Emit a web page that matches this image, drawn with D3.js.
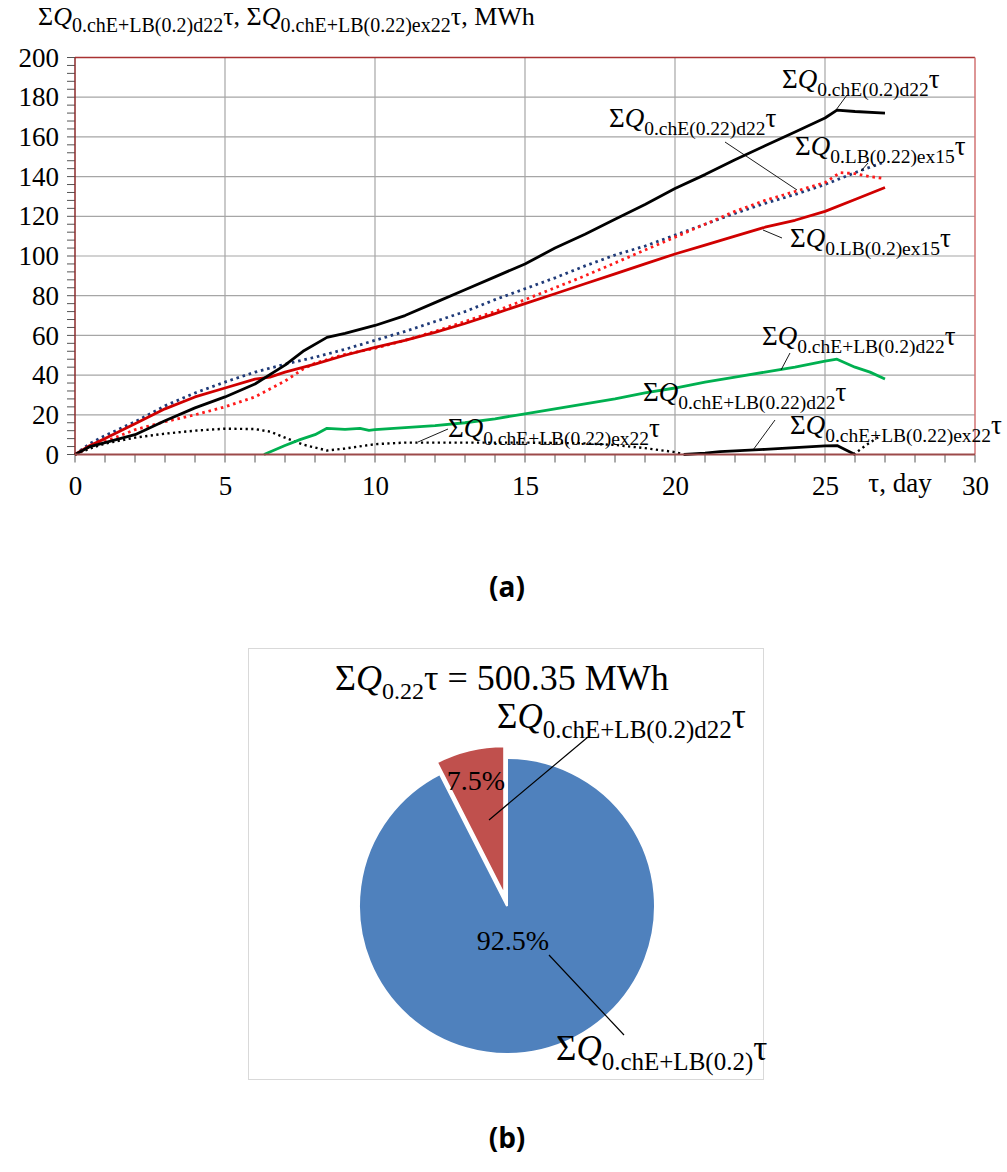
<!DOCTYPE html>
<html>
<head>
<meta charset="utf-8">
<script src="https://cdn.jsdelivr.net/npm/d3@7"></script>
<style>
  body { margin: 0; background: #fff; }
  svg { display: block; }
  text { font-family: "Liberation Serif", "Times New Roman", serif; }
</style>
</head>
<body>
<svg id="chart" width="1007" height="1172" viewBox="0 0 1007 1172"></svg>
<script>
// ---- data: [day, MWh] ----
const chE02d22 = [[0,0],[0.5,4],[1,6],[2,10],[3,17],[4,23.5],[5,29],[6,35.5],[7,45],[7.6,52],[8.4,59],[9,61],[10,65],[11,70],[12,76.5],[13,83],[14,89.5],[15,96],[16,104],[17,111],[18,118.5],[19,126],[20,134],[21,141],[22,148.5],[23,155.5],[24,162.5],[25,169.5],[25.4,173.5],[26,172.8],[27,172]];
const lb02ex15 = [[0,0],[0.5,4.5],[1,8],[2,15.5],[3,23],[4,29],[5,33.5],[6,38],[6.5,39],[7,41.5],[8,45.5],[9,50],[10,54],[11,57.5],[12,61.5],[13,66],[14,71],[15,76],[16,81],[17,86],[18,91],[19,96],[20,101],[21,105.5],[22,110],[23,114.5],[24,118],[25,122.5],[26,128.5],[27,134.5]];
const lb022ex15 = [[0,0],[0.5,5.5],[1,9.5],[2,16.5],[3,24.5],[4,31],[5,36.5],[6,41.5],[7,45.5],[8,49],[9,53],[10,57.5],[11,62],[12,67],[13,72],[14,78],[15,83.5],[16,89],[17,95],[18,100.5],[19,105],[20,110.5],[21,116],[22,121.5],[23,126.5],[24,131],[25,136],[26,142],[27,147.5]];
const chE022d22 = [[0,0],[0.5,4],[1,6.5],[2,12.5],[3,16.5],[4,20],[5,24],[6,29],[7,37],[7.6,43],[8,46],[9,50.5],[10,53.5],[11,57.5],[12,62],[13,67],[14,72],[15,78],[16,84],[17,90],[18,96.5],[19,103],[20,109.5],[21,116],[22,122.5],[23,128],[24,132.5],[25,137],[25.5,142],[26,141.5],[26.5,140],[27,139]];
const sum02d22 = [[6.3,0],[7,4.5],[7.5,7.5],[8,10],[8.4,13.2],[9,12.7],[9.5,13.2],[9.8,12.2],[10,12.5],[11,13.5],[12,14.5],[13,16],[14,18],[15,20.5],[16,23],[17,25.5],[18,28],[19,31],[20,33.5],[21,36.5],[22,39],[23,41.5],[24,44],[25,47],[25.4,48],[26,44],[26.5,41.5],[27,38]];
const sum022ex22a = [[0,0],[0.5,3],[1,5.5],[2,8.5],[3,10.5],[4,12],[5,13],[6,12.8],[6.5,11.5],[7,8.5],[7.6,5],[8.4,2],[9,3],[10,5.2],[11,6],[12,6],[13,6],[14,6],[15,6],[16,5.8],[17,5.6],[18,4.8],[19,3.2],[20,1.2],[20.3,0]];
const sum022ex22b = [[25.95,0],[26.4,5],[26.8,9]];
const sum022d22 = [[20.3,0],[21,0.7],[21.5,1.4],[22,1.8],[23,2.6],[24,3.5],[25,4.3],[25.4,4.5],[26,0]];

const xTicks = [0, 5, 10, 15, 20, 25, 30];
const yTicks = [0, 20, 40, 60, 80, 100, 120, 140, 160, 180, 200];

const pieNames = ["0.chE+LB(0.2)", "0.chE+LB(0.2)d22"];
const pieShares = [92.5, 7.5];
const pieColors = ["#4f81bd", "#c0504d"];

const svg = d3.select("#chart");
const serif = '"Liberation Serif", "Times New Roman", serif';

// ΣQ_sub τ  label built from tspans
function sigmaLabel(g, x, y, sub, big, small, anchor) {
    const t = g.append("text")
        .attr("x", x).attr("y", y)
        .style("font-family", serif)
        .attr("font-size", big)
        .attr("text-anchor", anchor || "start")
        .attr("fill", "#000");
    t.append("tspan").text("Σ");
    t.append("tspan").attr("font-style", "italic").text("Q");
    t.append("tspan").attr("font-size", small).attr("dy", big * 0.28).text(sub);
    t.append("tspan").attr("dy", -big * 0.28).text("τ");
    return t;
}

// ---------------- chart (a) ----------------
const x = d3.scaleLinear().domain([0, 30]).range([75, 975]);
const y = d3.scaleLinear().domain([0, 200]).range([454.5, 57.5]);

const gridG = svg.append("g");
gridG.selectAll(".hg").data(yTicks.slice(1, -1)).enter().append("line")
    .attr("x1", x(0)).attr("x2", x(30))
    .attr("y1", d => y(d)).attr("y2", d => y(d))
    .attr("stroke", "#a6a6a6").attr("stroke-width", 1.2);
gridG.selectAll(".vg").data(xTicks.slice(1, -1)).enter().append("line")
    .attr("x1", d => x(d)).attr("x2", d => x(d))
    .attr("y1", y(0)).attr("y2", y(200))
    .attr("stroke", "#a6a6a6").attr("stroke-width", 1.2);

// minor ticks
svg.append("g").selectAll("line").data(d3.range(0, 201, 4)).enter().append("line")
    .attr("x1", x(0) - 8).attr("x2", x(0))
    .attr("y1", d => y(d)).attr("y2", d => y(d))
    .attr("stroke", "#555").attr("stroke-width", 1);
svg.append("g").selectAll("line").data(d3.range(0, 31, 1)).enter().append("line")
    .attr("x1", d => x(d)).attr("x2", d => x(d))
    .attr("y1", y(0)).attr("y2", y(0) + 8)
    .attr("stroke", "#555").attr("stroke-width", 1);

// axes (labels only, ticks drawn above)
const yAxis = svg.append("g")
    .attr("transform", `translate(${x(0) - 10},0)`)
    .call(d3.axisLeft(y).tickValues(yTicks).tickSize(0).tickPadding(6));
const xAxis = svg.append("g")
    .attr("transform", `translate(0,${y(0) + 8})`)
    .call(d3.axisBottom(x).tickValues(xTicks).tickSize(0).tickPadding(12));
[yAxis, xAxis].forEach(a => {
    a.attr("font-family", null);
    a.select(".domain").remove();
    a.selectAll("text").style("font-family", serif).attr("font-size", 27).attr("fill", "#000");
});
xAxis.selectAll("text").attr("dy", "0.75em");

// frame
svg.append("line").attr("x1", x(0)).attr("x2", x(30)).attr("y1", y(200)).attr("y2", y(200))
    .attr("stroke", "#a93232").attr("stroke-width", 1.5);
svg.append("line").attr("x1", x(30)).attr("x2", x(30)).attr("y1", y(200)).attr("y2", y(0))
    .attr("stroke", "#d27373").attr("stroke-width", 1.5);

// series
const line = d3.line().x(d => x(d[0])).y(d => y(d[1]));
const series = [
    { d: sum022ex22a, c: "#000", w: 2.4, dash: "2.2,3.4" },
    { d: sum022ex22b, c: "#000", w: 2.4, dash: "2.2,3.4" },
    { d: sum02d22, c: "#00b050", w: 2.8 },
    { d: sum022d22, c: "#000", w: 2.8 },
    { d: lb022ex15, c: "#1f3a78", w: 2.8, dash: "2.6,3.8" },
    { d: chE022d22, c: "#ff1a1a", w: 2.8, dash: "2.6,3.8" },
    { d: lb02ex15, c: "#d00000", w: 2.8 },
    { d: chE02d22, c: "#000", w: 2.8 }
];
svg.append("g").selectAll("path").data(series).enter().append("path")
    .attr("d", s => line(s.d))
    .attr("fill", "none")
    .attr("stroke", s => s.c)
    .attr("stroke-width", s => s.w)
    .attr("stroke-dasharray", s => s.dash || null)
    .attr("stroke-linejoin", "round");

// axis frame (left + bottom) on top
svg.append("line").attr("x1", x(0)).attr("x2", x(0)).attr("y1", y(200)).attr("y2", y(0))
    .attr("stroke", "#8b2a2a").attr("stroke-width", 1.5);
svg.append("line").attr("x1", x(0)).attr("x2", x(30)).attr("y1", y(0)).attr("y2", y(0))
    .attr("stroke", "#9c4a4a").attr("stroke-width", 1.8);

// leader lines in chart (a)
const leaders = [
    [847, 95, 836, 110],
    [725, 142, 797, 190],
    [868, 163, 861, 171],
    [782, 238, 763, 230],
    [790, 353, 781, 370],
    [775, 420, 753, 450],
    [448, 429, 418, 442]
];
svg.append("g").selectAll("line").data(leaders).enter().append("line")
    .attr("x1", d => d[0]).attr("y1", d => d[1])
    .attr("x2", d => d[2]).attr("y2", d => d[3])
    .attr("stroke", "#000").attr("stroke-width", 0.9);

const labG = svg.append("g");
sigmaLabel(labG, 782, 88, "0.chE(0.2)d22", 27, 19.5);
sigmaLabel(labG, 609, 127, "0.chE(0.22)d22", 27, 19.5);
sigmaLabel(labG, 795, 155, "0.LB(0.22)ex15", 27, 19.5);
sigmaLabel(labG, 790, 247, "0.LB(0.2)ex15", 27, 19.5);
sigmaLabel(labG, 762, 345, "0.chE+LB(0.2)d22", 27, 19.5);
sigmaLabel(labG, 643, 401, "0.chE+LB(0.22)d22", 27, 19.5);
sigmaLabel(labG, 790, 434, "0.chE+LB(0.22)ex22", 27, 19.5);
sigmaLabel(labG, 448, 437, "0.chE+LB(0.22)ex22", 27, 19.5);

// axis title
const title = svg.append("text").attr("x", 38).attr("y", 25)
    .style("font-family", serif).attr("font-size", 26);
title.append("tspan").text("Σ");
title.append("tspan").attr("font-style", "italic").text("Q");
title.append("tspan").attr("font-size", 20).attr("dy", 7).text("0.chE+LB(0.2)d22");
title.append("tspan").attr("dy", -7).text("τ,  Σ");
title.append("tspan").attr("font-style", "italic").text("Q");
title.append("tspan").attr("font-size", 20).attr("dy", 7).text("0.chE+LB(0.22)ex22");
title.append("tspan").attr("dy", -7).text("τ, MWh");

// x axis unit label
svg.append("text").attr("x", 900).attr("y", 492)
    .attr("text-anchor", "middle")
    .style("font-family", serif).attr("font-size", 27).text("τ, day");

svg.append("text").attr("x", 507).attr("y", 597).attr("text-anchor", "middle")
    .style("font-family", '"Open Sans", "Noto Sans", sans-serif')
    .attr("font-weight", "bold").attr("font-size", 28).text("(a)");

// ---------------- chart (b) ----------------
svg.append("rect").attr("x", 248.5).attr("y", 648.5).attr("width", 515).attr("height", 431)
    .attr("fill", "#fff").attr("stroke", "#d9d9d9").attr("stroke-width", 1);

const cx = 507, cy = 906, r = 148;
const pie = d3.pie().sort(null).value(d => d);
const arcs = pie(pieShares);
const arc = d3.arc().innerRadius(0).outerRadius(r);
const pieG = svg.append("g").attr("transform", `translate(${cx},${cy})`);
pieG.selectAll("path").data(arcs).enter().append("path")
    .attr("d", arc)
    .attr("transform", (d, i) => {
        if (i !== 1) return null;
        const a = (d.startAngle + d.endAngle) / 2;
        return `translate(${12 * Math.sin(a)},${-12 * Math.cos(a)})`;
    })
    .attr("fill", (d, i) => pieColors[i])
    .attr("stroke", "#fff").attr("stroke-width", 2);

const pctPos = [[513, 950], [476, 790]];
pieG.selectAll(".pct").data(arcs).enter().append("text")
    .attr("x", (d, i) => pctPos[i][0] - cx).attr("y", (d, i) => pctPos[i][1] - cy)
    .attr("text-anchor", "middle")
    .style("font-family", serif).attr("font-size", 28)
    .text(d => d.data + "%");

// pie leaders
svg.append("line").attr("x1", 588).attr("y1", 737).attr("x2", 489).attr("y2", 820)
    .attr("stroke", "#000").attr("stroke-width", 1.2);
svg.append("line").attr("x1", 549).attr("y1", 955).attr("x2", 624).attr("y2", 1035)
    .attr("stroke", "#000").attr("stroke-width", 1.2);

const pieT = svg.append("text").attr("x", 335).attr("y", 690)
    .style("font-family", serif).attr("font-size", 36);
pieT.append("tspan").text("Σ");
pieT.append("tspan").attr("font-style", "italic").text("Q");
pieT.append("tspan").attr("font-size", 24).attr("dy", 9).text("0.22");
pieT.append("tspan").attr("dy", -9).text("τ = 500.35 MWh");

sigmaLabel(svg, 497, 728, pieNames[1], 35, 25);
sigmaLabel(svg, 556, 1060, pieNames[0], 35, 25);

svg.append("text").attr("x", 507).attr("y", 1148).attr("text-anchor", "middle")
    .style("font-family", '"Open Sans", "Noto Sans", sans-serif')
    .attr("font-weight", "bold").attr("font-size", 28).text("(b)");
</script>
</body>
</html>
